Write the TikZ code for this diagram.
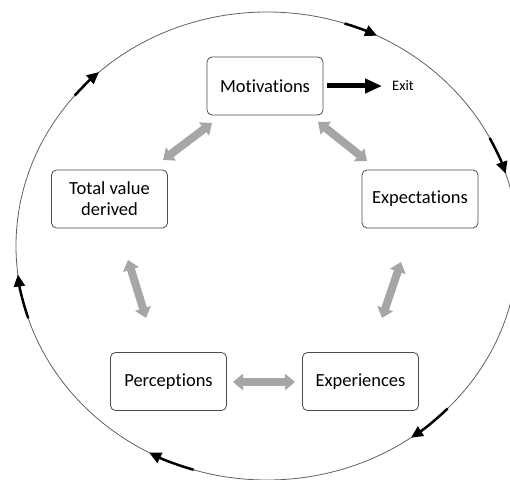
\documentclass[tikz,border=0pt]{standalone}
\usepackage{fontspec}
\setmainfont{Carlito}[Ligatures=NoCommon, Contextuals=NoAlternate]
\usetikzlibrary{arrows.meta,calc}
\definecolor{garrowc}{HTML}{A6A6A6}
\definecolor{ringc}{HTML}{606060}
\begin{document}
\begin{tikzpicture}[x=1pt,y=1pt,
  box/.style={draw=black!70, line width=0.8pt, rounded corners=5pt, minimum width=116pt, minimum height=58pt, align=center, inner sep=0pt, font=\fontsize{18.5}{21}\selectfont},
  garrow/.style={draw=garrowc, line width=8pt, {Triangle[length=10pt,width=16pt]}-{Triangle[length=10pt,width=16pt]}},
  exitarrow/.style={draw=black, line width=5pt, -{Triangle[length=17pt,width=14pt]}},
  ring/.style={draw=ringc, line width=0.8pt},
  carrow/.style={draw=black, line width=2.5pt, -{Triangle[length=12pt,width=11pt]}},
  ellr/.style={x radius=251pt, y radius=234pt}
]
\useasboundingbox (0,0) rectangle (510,479);
\clip (0,0) rectangle (510,479);

\coordinate (c) at (267,233);
\draw[ring] (c) ellipse [ellr];

\draw[carrow] (c) ++(72:251pt and 234pt) arc[start angle=72, end angle=64, ellr];
\draw[carrow] (c) ++(27.5:251pt and 234pt) arc[start angle=27.5, end angle=18, ellr];
\draw[carrow] (c) ++(-44:251pt and 234pt) arc[start angle=-44, end angle=-55, ellr];
\draw[carrow] (c) ++(-107:251pt and 234pt) arc[start angle=-107, end angle=-118, ellr];
\draw[carrow] (c) ++(198:251pt and 234pt) arc[start angle=198, end angle=187, ellr];
\draw[carrow] (c) ++(140:251pt and 234pt) arc[start angle=140, end angle=132, ellr];

\node[box] (mot) at (265,393) {Motivations};
\node[box] (tot) at (109.5,280) {Total value\\derived};
\node[box] (exp) at (420,280) {Expectations};
\node[box] (per) at (168.5,97.5) {Perceptions};
\node[box] (expe) at (360.5,97.5) {Experiences};
\node[anchor=west, inner sep=0pt, font=\fontsize{14.5}{16}\selectfont] (exit) at (392,393) {Exit};

\draw[exitarrow] ([xshift=4pt]mot.east) -- ([xshift=-10pt]exit.west);

\draw[garrow] ([shift={(-53,-37)}]mot.center) -- ([shift={(53.5,39)}]tot.center);
\draw[garrow] ([shift={(53,-36)}]mot.center) -- ([shift={(-53,38)}]exp.center);
\draw[garrow] ([shift={(18.5,-61)}]tot.center) -- ([shift={(-22.5,63.5)}]per.center);
\draw[garrow] ([shift={(-19,-63)}]exp.center) -- ([shift={(21.5,63.5)}]expe.center);
\draw[garrow] ([shift={(64.5,-0.5)}]per.center) -- ([shift={(-65.5,-0.5)}]expe.center);
\end{tikzpicture}
\end{document}
